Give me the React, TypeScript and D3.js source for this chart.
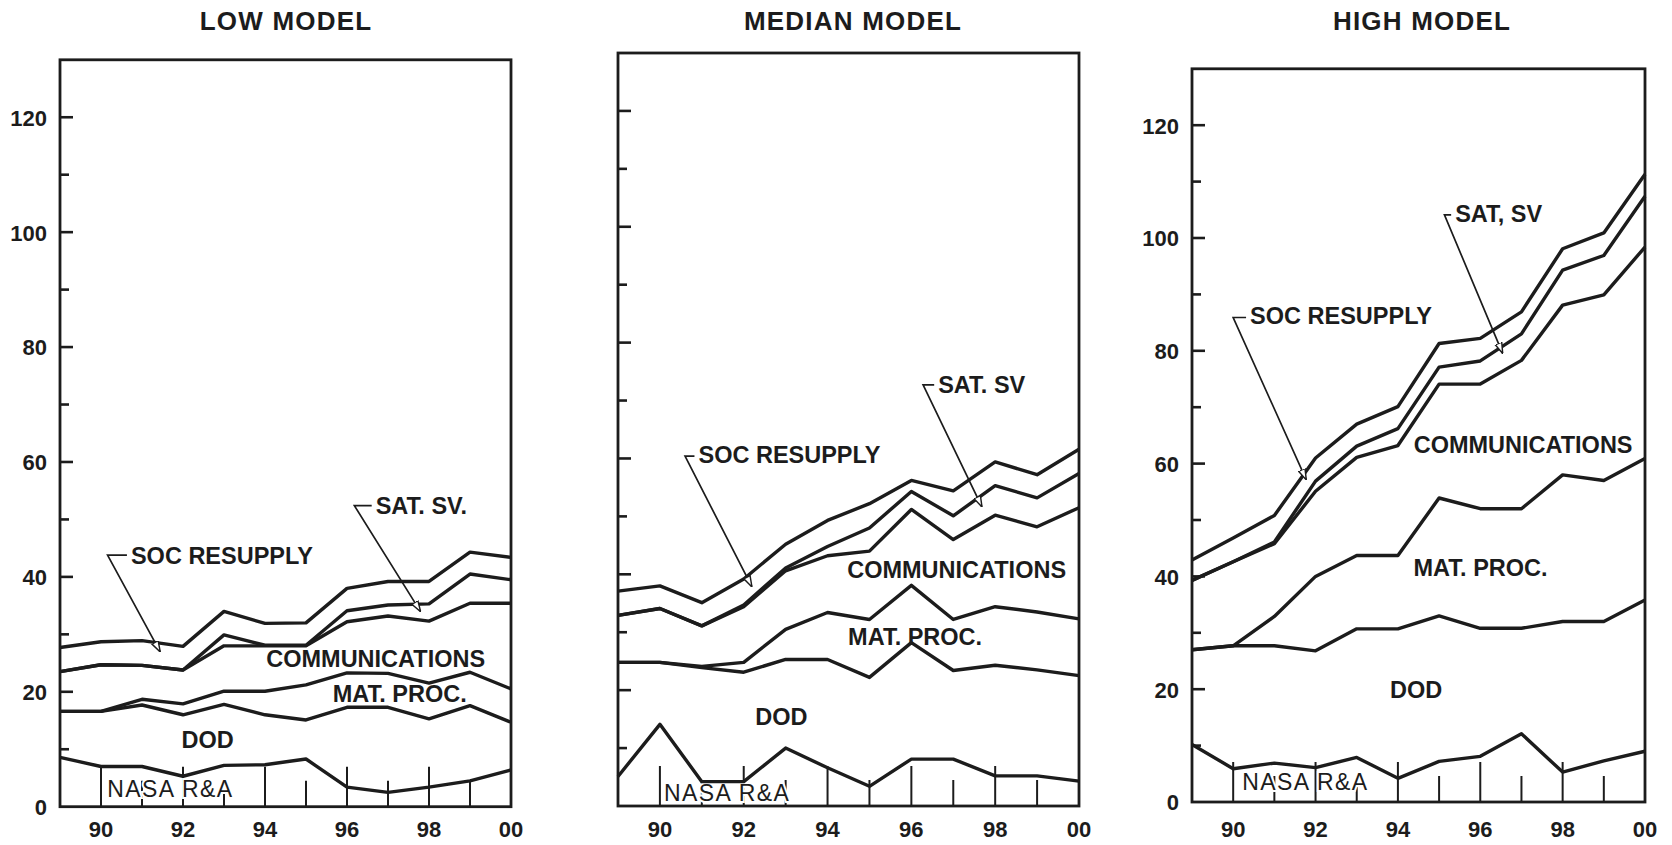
import React, { useRef, useEffect } from 'react';
import * as d3 from 'd3';

// years 1989 .. 2000
const years = [1989, 1990, 1991, 1992, 1993, 1994, 1995, 1996, 1997, 1998, 1999, 2000];
const xTickYears = [1990, 1992, 1994, 1996, 1998, 2000];
const xTickLabels = ['90', '92', '94', '96', '98', '00'];
const yTickValues = [0, 20, 40, 60, 80, 100, 120];
const yTickLabels = ['0', '20', '40', '60', '80', '100', '120'];

// cumulative tops of each band, LOW MODEL
const lowNasa = [8.6, 7.0, 7.0, 5.3, 7.2, 7.3, 8.3, 3.4, 2.5, 3.4, 4.5, 6.4];
const lowDod = [16.6, 16.6, 17.7, 16.0, 17.8, 16.0, 15.1, 17.3, 17.3, 15.3, 17.6, 14.7];
const lowMat = [16.6, 16.6, 18.7, 17.9, 20.1, 20.1, 21.2, 23.3, 23.2, 21.5, 23.4, 20.5];
const lowComm = [23.5, 24.7, 24.6, 23.8, 28.0, 28.0, 28.0, 32.2, 33.2, 32.3, 35.4, 35.4];
const lowSat = [23.5, 24.7, 24.6, 23.8, 29.9, 28.1, 28.1, 34.1, 35.1, 35.3, 40.5, 39.5];
const lowSoc = [27.7, 28.7, 28.9, 27.9, 34.0, 31.9, 32.0, 38.0, 39.2, 39.2, 44.3, 43.4];

// MEDIAN MODEL
const medNasa = [5.1, 14.1, 4.2, 4.2, 10.0, 6.6, 3.4, 8.1, 8.1, 5.2, 5.2, 4.3];
const medDod = [24.8, 24.8, 23.9, 23.1, 25.3, 25.3, 22.2, 28.2, 23.4, 24.3, 23.5, 22.5];
const medMat = [24.8, 24.8, 24.1, 24.8, 30.5, 33.4, 32.2, 38.1, 32.2, 34.4, 33.5, 32.3];
const medComm = [32.9, 34.1, 31.1, 34.4, 40.6, 43.2, 44.0, 51.2, 46.0, 50.2, 48.2, 51.5];
const medSat = [32.9, 34.1, 31.1, 34.7, 41.1, 44.8, 48.0, 54.3, 50.1, 55.3, 53.2, 57.4];
const medSoc = [37.1, 38.0, 35.1, 39.2, 45.2, 49.3, 52.2, 56.2, 54.4, 59.4, 57.2, 61.6];

// HIGH MODEL
const highNasa = [10.2, 5.9, 6.9, 6.1, 7.9, 4.2, 7.2, 8.1, 12.1, 5.3, 7.3, 9.0];
const highDod = [27.0, 27.7, 27.7, 26.8, 30.7, 30.7, 33.0, 30.8, 30.8, 32.0, 32.0, 35.8];
const highMat = [27.0, 27.7, 32.9, 40.0, 43.7, 43.7, 53.9, 52.0, 52.0, 58.0, 57.0, 60.9];
const highComm = [39.3, 42.6, 45.8, 55.1, 61.1, 63.2, 74.1, 74.1, 78.3, 88.1, 89.9, 98.4];
const highSat = [39.3, 42.6, 46.1, 56.9, 63.1, 66.2, 77.1, 78.2, 83.0, 94.3, 96.9, 107.4];
const highSoc = [42.9, 46.8, 50.8, 61.0, 67.0, 70.1, 81.3, 82.2, 86.9, 98.1, 100.9, 111.3];

const FONT = '"Liberation Sans", Arial, Helvetica, sans-serif';
const INK = '#1c1c1c';

type Pt = [number, number];
interface Leader {
  text: string;
  at: Pt;
  elbow: Pt;
  tip: Pt;
}
interface Panel {
  title: string;
  titleX: number;
  left: number;
  right: number;
  top: number;
  bottom: number;
  yLabels: boolean;
  series: number[][];
  dod: Pt;
  mat: Pt;
  comm: Pt;
  nasa: Pt;
  soc: Leader;
  sat: Leader;
}

const panels: Panel[] = [
  {
    title: 'LOW MODEL',
    titleX: 286,
    left: 60,
    right: 511,
    top: 59.8,
    bottom: 806.7,
    yLabels: true,
    series: [lowNasa, lowDod, lowMat, lowComm, lowSat, lowSoc],
    dod: [1992.6, 10.2],
    mat: [1995.65, 18.3],
    comm: [1996.7, 24.3],
    nasa: [1990.15, 1.7],
    soc: { text: 'SOC RESUPPLY', at: [1990.73, 42.2], elbow: [1990.16, 43.8], tip: [1991.44, 27.0] },
    sat: { text: 'SAT. SV.', at: [1996.7, 50.9], elbow: [1996.18, 52.4], tip: [1997.79, 34.0] },
  },
  {
    title: 'MEDIAN MODEL',
    titleX: 853,
    left: 618,
    right: 1079,
    top: 53,
    bottom: 806,
    yLabels: false,
    series: [medNasa, medDod, medMat, medComm, medSat, medSoc],
    dod: [1992.9, 14.0],
    mat: [1994.49, 27.8],
    comm: [1997.08, 39.3],
    nasa: [1990.1, 0.8],
    soc: { text: 'SOC RESUPPLY', at: [1990.92, 59.2], elbow: [1990.6, 60.4], tip: [1992.19, 37.9] },
    sat: { text: 'SAT. SV', at: [1996.64, 71.3], elbow: [1996.28, 72.7], tip: [1997.68, 51.7] },
  },
  {
    title: 'HIGH MODEL',
    titleX: 1422,
    left: 1192,
    right: 1645,
    top: 68.8,
    bottom: 802,
    yLabels: true,
    series: [highNasa, highDod, highMat, highComm, highSat, highSoc],
    dod: [1994.44, 18.5],
    mat: [1994.38, 40.0],
    comm: [1997.04, 61.8],
    nasa: [1990.22, 2.06],
    soc: { text: 'SOC RESUPPLY', at: [1990.41, 84.7], elbow: [1990.0, 85.9], tip: [1991.77, 57.2] },
    sat: { text: 'SAT, SV', at: [1995.39, 102.9], elbow: [1995.13, 104.1], tip: [1996.54, 79.6] },
  },
];

function drawPanel(svg: d3.Selection<SVGSVGElement, unknown, null, undefined>, p: Panel) {
  const x = d3.scaleLinear().domain([1989, 2000]).range([p.left, p.right]);
  const y = d3.scaleLinear().domain([0, 130]).range([p.bottom, p.top]);
  const g = svg.append('g').style('font-family', FONT).attr('fill', INK);

  // title
  g.append('text')
    .attr('x', p.titleX)
    .attr('y', 30)
    .attr('text-anchor', 'middle')
    .style('font-size', '26px')
    .style('font-weight', 'bold')
    .style('letter-spacing', '1.2px')
    .text(p.title);

  // y ticks on the inside of the frame
  d3.range(10, 130, 10).forEach((v) => {
    const major = v % 20 === 0;
    g.append('line')
      .attr('x1', p.left)
      .attr('x2', p.left + (major ? 13 : 9))
      .attr('y1', y(v))
      .attr('y2', y(v))
      .attr('stroke', INK)
      .attr('stroke-width', 2.6);
  });

  if (p.yLabels) {
    g.selectAll('.ylab')
      .data(yTickValues)
      .enter()
      .append('text')
      .attr('x', p.left - 13)
      .attr('y', (d) => y(d))
      .attr('dy', '0.38em')
      .attr('text-anchor', 'end')
      .style('font-size', '22px')
      .style('font-weight', 'bold')
      .text((d, i) => yTickLabels[i]);
  }

  g.selectAll('.xlab')
    .data(xTickYears)
    .enter()
    .append('text')
    .attr('x', (d) => x(d))
    .attr('y', 837)
    .attr('text-anchor', 'middle')
    .style('font-size', '22px')
    .style('font-weight', 'bold')
    .text((d, i) => xTickLabels[i]);

  // year ticks rising from the base line
  years.slice(1, -1).forEach((yr) => {
    const even = yr % 2 === 0;
    g.append('line')
      .attr('x1', x(yr))
      .attr('x2', x(yr))
      .attr('y1', y(0))
      .attr('y2', y(0) - (even ? 40 : 26))
      .attr('stroke', INK)
      .attr('stroke-width', 2);
  });

  // NASA R&A label, knocked out of the ticks
  g.append('text')
    .attr('x', x(p.nasa[0]))
    .attr('y', y(p.nasa[1]))
    .style('font-size', '23px')
    .style('letter-spacing', '1.4px')
    .attr('stroke', '#fff')
    .attr('stroke-width', 4)
    .attr('paint-order', 'stroke')
    .text('NASA R&A');

  // band lines
  const line = d3
    .line<number>()
    .x((d, i) => x(years[i]))
    .y((d) => y(d));

  p.series.forEach((s) => {
    g.append('path')
      .attr('d', line(s))
      .attr('fill', 'none')
      .attr('stroke', INK)
      .attr('stroke-width', 3.4)
      .attr('stroke-linejoin', 'round');
  });

  const label = (pt: Pt, text: string, anchor: string) =>
    g.append('text')
      .attr('x', x(pt[0]))
      .attr('y', y(pt[1]))
      .attr('text-anchor', anchor)
      .style('font-size', '23.5px')
      .style('font-weight', 'bold')
      .text(text);

  label(p.dod, 'DOD', 'middle');
  label(p.mat, 'MAT. PROC.', 'start');
  label(p.comm, 'COMMUNICATIONS', 'middle');

  [p.soc, p.sat].forEach((l) => {
    label(l.at, l.text, 'start');
    g.append('path')
      .attr(
        'd',
        `M${x(l.at[0]) - 4},${y(l.elbow[1])}L${x(l.elbow[0])},${y(l.elbow[1])}L${x(l.tip[0])},${y(l.tip[1])}`
      )
      .attr('fill', 'none')
      .attr('stroke', INK)
      .attr('stroke-width', 1.7)
      .attr('marker-end', 'url(#openArrow)');
  });

  // frame
  g.append('rect')
    .attr('x', p.left)
    .attr('y', p.top)
    .attr('width', p.right - p.left)
    .attr('height', p.bottom - p.top)
    .attr('fill', 'none')
    .attr('stroke', INK)
    .attr('stroke-width', 2.8);
}

const App: React.FC = () => {
  const svgRef = useRef<SVGSVGElement>(null);

  useEffect(() => {
    if (!svgRef.current) return;
    const svg = d3.select(svgRef.current);
    svg.selectAll('*').remove();

    svg
      .append('defs')
      .append('marker')
      .attr('id', 'openArrow')
      .attr('viewBox', '0 0 10 8')
      .attr('refX', 9.5)
      .attr('refY', 4)
      .attr('markerWidth', 11)
      .attr('markerHeight', 9)
      .attr('markerUnits', 'userSpaceOnUse')
      .attr('orient', 'auto')
      .append('path')
      .attr('d', 'M0,0.8L10,4L0,7.2Z')
      .attr('fill', '#fff')
      .attr('stroke', INK)
      .attr('stroke-width', 1.3);

    panels.forEach((p) => drawPanel(svg, p));
  }, []);

  return (
    <svg
      ref={svgRef}
      width={1672}
      height={845}
      style={{ position: 'absolute', left: 0, top: 0, background: '#fff', display: 'block' }}
    />
  );
};

export default App;
